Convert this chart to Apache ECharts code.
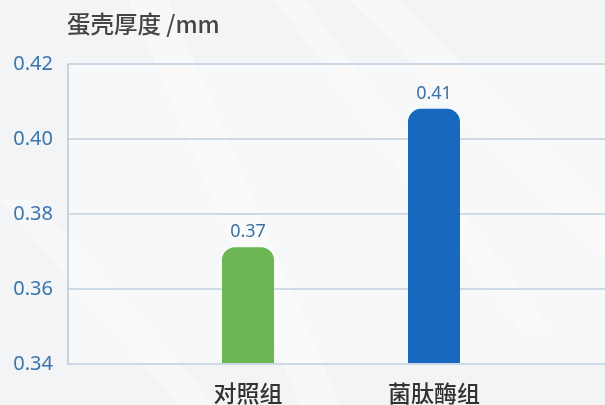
<!DOCTYPE html>
<html><head><meta charset="utf-8">
<script src="https://cdn.jsdelivr.net/npm/echarts@6/dist/echarts.min.js"></script>
<style>html,body{margin:0;padding:0;background:#f3f5f7}#c{width:605px;height:405px}</style>
</head><body><div id="c"></div>
<script>
const categories = ['对照组', '菌肽酶组'];
const values = [0.371, 0.408];
const barColors = ['#6cb655', '#1669bf'];
const yTicks = [0.34, 0.36, 0.38, 0.40, 0.42];
const yTitle = '蛋壳厚度 /mm';

const chart = echarts.init(document.getElementById('c'));
const stripes = [];
const stripeDefs = [[120,-20,300,405,40],[260,-20,520,330,30],[330,-20,605,260,50],[0,200,180,405,35]];
stripeDefs.forEach(s => stripes.push({
  type: 'polygon', silent: true, z: -10,
  shape: { points: [[s[0], s[1]], [s[0] + s[4], s[1]], [s[2] + s[4], s[3]], [s[2], s[3]]] },
  style: { fill: 'rgba(255,255,255,0.4)' }
}));
chart.setOption({
  backgroundColor: '#f2f4f6',
  animation: false,
  graphic: stripes.concat([{
    type: 'text', left: 67, top: 12,
    style: { text: yTitle, fill: '#444', font: '500 23.5px "Noto Sans CJK SC", sans-serif' }
  }]),
  grid: [
    { left: 68, right: 0, top: 64, bottom: 41, backgroundColor: 'rgba(255,255,255,0.35)', show: true, borderWidth: 0 },
    { left: 155, right: 78, top: 64, bottom: 41 }
  ],
  xAxis: [
    { gridIndex: 0, type: 'category', data: categories, show: false },
    { gridIndex: 1, type: 'category', data: categories,
      axisLine: { show: false }, axisTick: { show: false },
      axisLabel: { color: '#333', fontSize: 23, fontWeight: 500, margin: 19, fontFamily: '"Noto Sans CJK SC", sans-serif' } }
  ],
  yAxis: [
    { gridIndex: 0, type: 'value', min: yTicks[0], max: yTicks[yTicks.length - 1], interval: 0.02,
      axisLine: { show: true, lineStyle: { color: '#b9cad8', width: 1.5 } },
      axisTick: { show: false },
      splitLine: { lineStyle: { color: '#bfcfdc', width: 1.5 } },
      axisLabel: { color: '#3a76ad', fontSize: 20, margin: 15, fontFamily: '"Noto Sans", sans-serif',
        formatter: v => v.toFixed(2) } },
    { gridIndex: 1, type: 'value', min: yTicks[0], max: yTicks[yTicks.length - 1], interval: 0.02, show: false }
  ],
  series: [{
    type: 'bar', xAxisIndex: 1, yAxisIndex: 1, barWidth: 52,
    data: values.map((v, i) => ({ value: v, itemStyle: { color: barColors[i] } })),
    itemStyle: { borderRadius: [13, 13, 0, 0] },
    label: { show: true, position: 'top', distance: 6, color: '#3d70a2', fontSize: 18,
      fontFamily: '"Noto Sans", sans-serif', formatter: p => p.value.toFixed(2) }
  }]
});
</script></body></html>
